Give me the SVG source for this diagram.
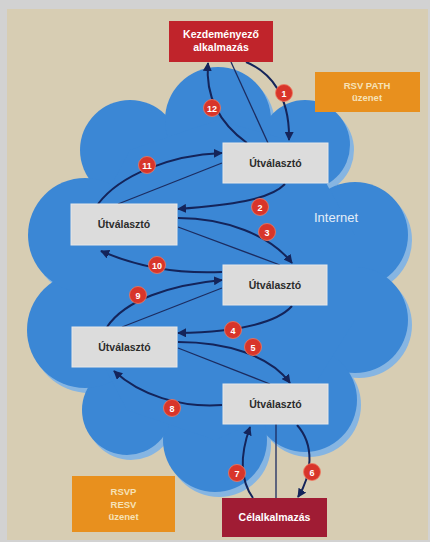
<svg xmlns="http://www.w3.org/2000/svg" width="430" height="542" viewBox="0 0 430 542">
<defs>
<style>
.lbl{font-family:"Liberation Sans",Arial,sans-serif;font-weight:bold;text-anchor:middle}
.rt{fill:#dcdcdc;stroke:#e8e8e8;stroke-width:1}
.rtt{font-size:10.5px;fill:#2b2b2b}
.arr{fill:none;stroke:#14245a;stroke-width:2;marker-end:url(#ah)}
.thin{fill:none;stroke:#1c2c60;stroke-width:1.3}
.num circle{fill:#d8352a;stroke:#f07a60;stroke-width:0.8}
.num text{font-family:"Liberation Sans",Arial,sans-serif;font-weight:bold;font-size:9px;fill:#fff;text-anchor:middle}
.sh circle,.sh polygon{fill:#86b5e2}
.cl circle,.cl polygon{fill:#3b87d5}
</style>
<marker id="ah" viewBox="0 0 10 10" refX="9" refY="5" markerWidth="4.5" markerHeight="4.5" orient="auto" markerUnits="strokeWidth">
<path d="M0,0 L10,5 L0,10 z" fill="#14245a"/>
</marker>
</defs>
<rect x="0" y="0" width="430" height="542" fill="#d2d2d2"/>
<rect x="7" y="9" width="421" height="531" fill="#d7cdb3"/>
<g id="cloud">
<g class="sh" transform="translate(4,5)">
<circle cx="130" cy="150" r="50"/><circle cx="218" cy="120" r="53"/><circle cx="305" cy="145" r="45"/>
<circle cx="355" cy="235" r="53"/><circle cx="355" cy="320" r="53"/><circle cx="305" cy="400" r="52"/>
<circle cx="215" cy="440" r="52"/><circle cx="127" cy="410" r="45"/><circle cx="85" cy="330" r="58"/>
<circle cx="85" cy="235" r="57"/>
</g>
<g class="cl">
<circle cx="130" cy="150" r="50"/><circle cx="218" cy="120" r="53"/><circle cx="305" cy="145" r="45"/>
<circle cx="355" cy="235" r="53"/><circle cx="355" cy="320" r="53"/><circle cx="305" cy="400" r="52"/>
<circle cx="215" cy="440" r="52"/><circle cx="127" cy="410" r="45"/><circle cx="85" cy="330" r="58"/>
<circle cx="85" cy="235" r="57"/>
<polygon points="130,150 218,120 305,145 355,235 355,320 305,400 215,440 127,410 85,330 85,235"/>
</g>
<text x="336" y="222" style="font-family:'Liberation Sans',Arial,sans-serif;font-size:13px;fill:#e4edf8;text-anchor:middle">Internet</text>
</g>
<g id="connectors">
<path class="thin" d="M231,62 L268,143"/>
<path class="thin" d="M118,204 L222,163"/>
<path class="thin" d="M178,227 L280,265"/>
<path class="thin" d="M122,327 L222,288"/>
<path class="thin" d="M178,348 L270,384"/>
<path class="thin" d="M276,424 L276,498"/>
<path class="arr" d="M246,62 C270,72 290,95 289,140"/>
<path class="arr" d="M247,143 C222,125 205,100 208,63"/>
<path class="arr" d="M98,204 C120,175 170,155 222,153"/>
<path class="arr" d="M285,184 C270,200 230,205 178,209"/>
<path class="arr" d="M178,218 C225,218 270,235 292,263"/>
<path class="arr" d="M222,272 C180,274 140,268 101,251"/>
<path class="arr" d="M107,327 C125,300 170,285 222,280"/>
<path class="arr" d="M292,306 C275,325 230,332 178,333"/>
<path class="arr" d="M178,342 C225,342 270,355 290,383"/>
<path class="arr" d="M222,405 C180,408 140,395 114,371"/>
<path class="arr" d="M253,498 C240,480 240,455 250,427"/>
<path class="arr" d="M297,425 C315,445 312,475 298,497"/>
</g>
<g id="labels">
<g class="num"><circle cx="284" cy="93" r="8.5"/><text x="284" y="96.5">1</text></g>
<g class="num"><circle cx="212" cy="108" r="8.5"/><text x="212" y="111.5">12</text></g>
<g class="num"><circle cx="147" cy="165" r="8.5"/><text x="147" y="168.5">11</text></g>
<g class="num"><circle cx="260" cy="207" r="8.5"/><text x="260" y="210.5">2</text></g>
<g class="num"><circle cx="267" cy="232" r="8.5"/><text x="267" y="235.5">3</text></g>
<g class="num"><circle cx="157" cy="265" r="8.5"/><text x="157" y="268.5">10</text></g>
<g class="num"><circle cx="138" cy="295" r="8.5"/><text x="138" y="298.5">9</text></g>
<g class="num"><circle cx="233" cy="330" r="8.5"/><text x="233" y="333.5">4</text></g>
<g class="num"><circle cx="253" cy="347" r="8.5"/><text x="253" y="350.5">5</text></g>
<g class="num"><circle cx="172" cy="408" r="8.5"/><text x="172" y="411.5">8</text></g>
<g class="num"><circle cx="237" cy="473" r="8.5"/><text x="237" y="476.5">7</text></g>
<g class="num"><circle cx="312" cy="472" r="8.5"/><text x="312" y="475.5">6</text></g>
</g>
<g id="init-app">
<rect x="169" y="21" width="104" height="41" fill="#c0242b"/>
<text class="lbl" x="221" y="38" font-size="10.5" fill="#fff">Kezdeményező</text>
<text class="lbl" x="221" y="51" font-size="10.5" fill="#fff">alkalmazás</text>
</g>
<g id="rsv-path">
<rect x="315" y="72" width="105" height="40" fill="#e8901e"/>
<text class="lbl" x="367" y="89" font-size="9.5" fill="#f6e2b8">RSV PATH</text>
<text class="lbl" x="367" y="101" font-size="9.5" fill="#f6e2b8">üzenet</text>
</g>
<g id="router1"><rect class="rt" x="223" y="143" width="105" height="40"/><text class="lbl rtt" x="275.5" y="166.5">Útválasztó</text></g>
<g id="router2"><rect class="rt" x="71" y="204" width="106" height="41"/><text class="lbl rtt" x="124" y="228">Útválasztó</text></g>
<g id="router3"><rect class="rt" x="223" y="265" width="104" height="40"/><text class="lbl rtt" x="275" y="288.5">Útválasztó</text></g>
<g id="router4"><rect class="rt" x="72" y="327" width="105" height="40"/><text class="lbl rtt" x="124.5" y="350.5">Útválasztó</text></g>
<g id="router5"><rect class="rt" x="223" y="384" width="105" height="40"/><text class="lbl rtt" x="275.5" y="407.5">Útválasztó</text></g>
<g id="rsvp-resv">
<rect x="72" y="476" width="103" height="56" fill="#e8901e"/>
<text class="lbl" x="123.5" y="495" font-size="9.5" fill="#f6e2b8">RSVP</text>
<text class="lbl" x="123.5" y="507.5" font-size="9.5" fill="#f6e2b8">RESV</text>
<text class="lbl" x="123.5" y="520" font-size="9.5" fill="#f6e2b8">üzenet</text>
</g>
<g id="target-app">
<rect x="222" y="498" width="105" height="39" fill="#a01c34"/>
<text class="lbl" x="274.5" y="521" font-size="10.5" fill="#fff">Célalkalmazás</text>
</g>
</svg>
